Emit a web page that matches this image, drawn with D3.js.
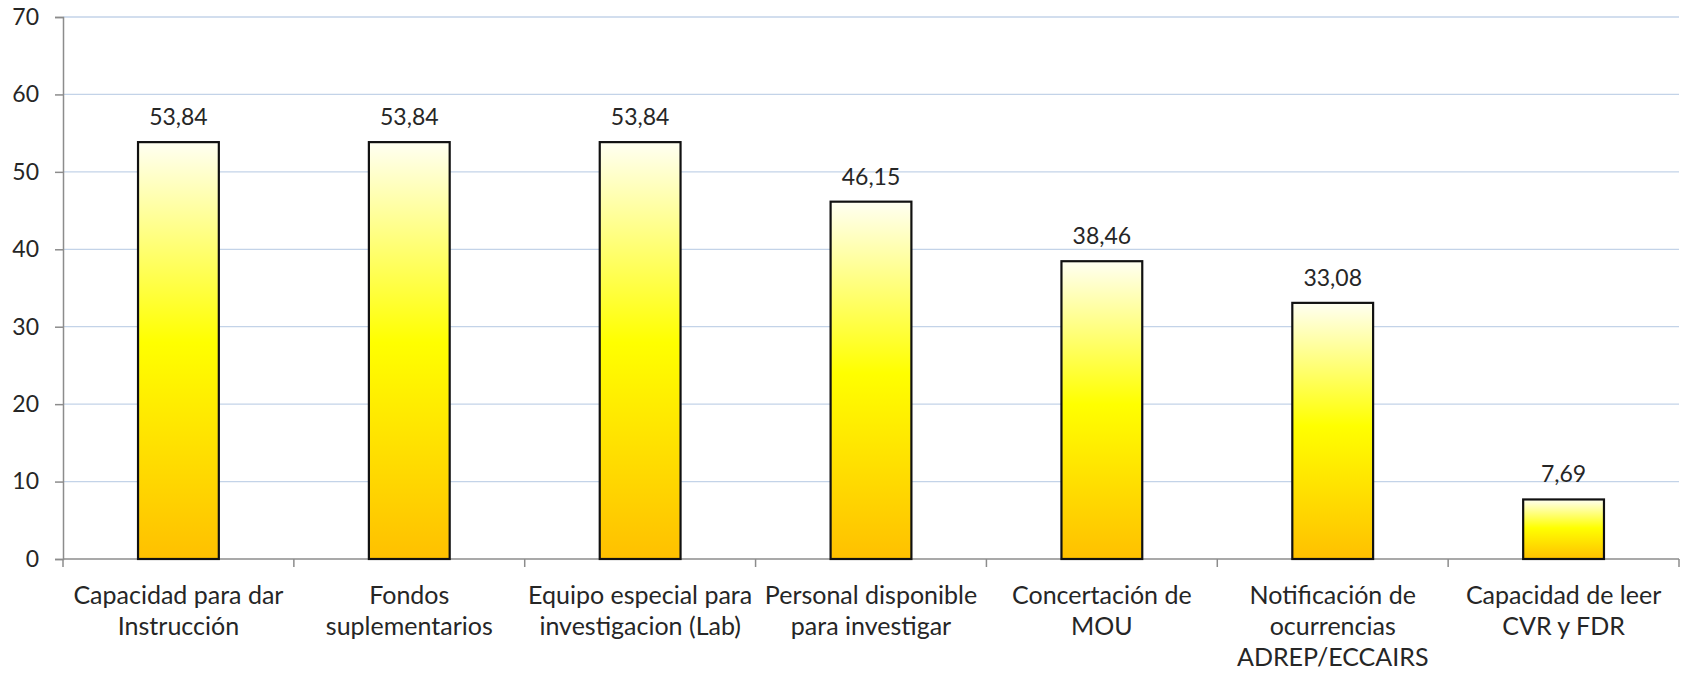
<!DOCTYPE html>
<html>
<head>
<meta charset="utf-8">
<script src="https://cdn.jsdelivr.net/npm/d3@7"></script>
<style>
  html, body { margin: 0; padding: 0; background: #fff; }
  svg text { font-family: Lato, "Open Sans", "Liberation Sans", sans-serif; fill: #262626; }
</style>
</head>
<body>
<svg id="chart" width="1685" height="674"></svg>
<script>
const categories = [
  ["Capacidad para dar", "Instrucción"],
  ["Fondos", "suplementarios"],
  ["Equipo especial para", "investigacion (Lab)"],
  ["Personal disponible", "para investigar"],
  ["Concertación de", "MOU"],
  ["Notificación de", "ocurrencias", "ADREP/ECCAIRS"],
  ["Capacidad de leer", "CVR y FDR"]
];
const values = [53.84, 53.84, 53.84, 46.15, 38.46, 33.08, 7.69];
const valueLabels = ["53,84", "53,84", "53,84", "46,15", "38,46", "33,08", "7,69"];
const yTicks = [0, 10, 20, 30, 40, 50, 60, 70];

const margin = { left: 63, right: 6, top: 17, bottom: 115 };
const W = 1685, H = 674;
const svg = d3.select("#chart");

const x = d3.scaleBand()
  .domain(d3.range(categories.length))
  .range([margin.left, W - margin.right])
  .paddingInner(0.65)
  .paddingOuter(0.325);
const y = d3.scaleLinear().domain([0, 70]).range([H - margin.bottom, margin.top]);

const defs = svg.append("defs");
const grad = defs.append("linearGradient")
  .attr("id", "barGrad").attr("x1", 0).attr("y1", 0).attr("x2", 0).attr("y2", 1);
grad.append("stop").attr("offset", "0%").attr("stop-color", "#FFFFF2");
grad.append("stop").attr("offset", "48%").attr("stop-color", "#FFFF00");
grad.append("stop").attr("offset", "100%").attr("stop-color", "#FFC000");

// gridlines
svg.append("g").selectAll("line").data(yTicks.filter(d => d > 0)).join("line")
  .attr("x1", margin.left).attr("x2", W - margin.right)
  .attr("y1", d => y(d)).attr("y2", d => y(d))
  .attr("stroke", "#C3D3E8").attr("stroke-width", 1.3);

// y axis
const yAxis = svg.append("g").attr("transform", `translate(${margin.left},0)`)
  .call(d3.axisLeft(y).tickValues(yTicks).tickSize(8).tickPadding(16).tickFormat(d3.format("d")));
yAxis.select(".domain").attr("stroke", "#8C8C8C").attr("stroke-width", 1.5);
yAxis.selectAll(".tick line").attr("stroke", "#8C8C8C").attr("stroke-width", 1.5);
yAxis.selectAll("text").attr("font-size", 23).attr("fill", "#262626")
  .style("font-family", "Lato, 'Open Sans', sans-serif");

// x axis baseline and ticks at category boundaries
const boundaries = d3.range(categories.length + 1).map(i => margin.left + i * (W - margin.right - margin.left) / categories.length);
svg.append("line")
  .attr("x1", margin.left).attr("x2", W - margin.right)
  .attr("y1", y(0)).attr("y2", y(0))
  .attr("stroke", "#8C8C8C").attr("stroke-width", 1.5);
svg.append("g").selectAll("line").data(boundaries).join("line")
  .attr("x1", d => d).attr("x2", d => d)
  .attr("y1", y(0)).attr("y2", y(0) + 8)
  .attr("stroke", "#8C8C8C").attr("stroke-width", 1.5);

// bars
svg.append("g").selectAll("rect").data(values).join("rect")
  .attr("x", (d, i) => x(i))
  .attr("y", d => y(d))
  .attr("width", x.bandwidth())
  .attr("height", d => y(0) - y(d))
  .attr("fill", "url(#barGrad)")
  .attr("stroke", "#111").attr("stroke-width", 2.2);

// value labels
svg.append("g").selectAll("text").data(values).join("text")
  .attr("x", (d, i) => x(i) + x.bandwidth() / 2)
  .attr("y", d => y(d) - 17)
  .attr("text-anchor", "middle")
  .attr("font-size", 23)
  .text((d, i) => valueLabels[i]);

// category labels
const catG = svg.append("g").selectAll("text").data(categories).join("text")
  .attr("x", (d, i) => x(i) + x.bandwidth() / 2)
  .attr("y", y(0) + 45)
  .attr("text-anchor", "middle")
  .attr("font-size", 25);
catG.selectAll("tspan").data(d => d).join("tspan")
  .attr("x", function() { return d3.select(this.parentNode).attr("x"); })
  .attr("dy", (d, j) => j === 0 ? 0 : 31)
  .text(d => d);
</script>
</body>
</html>
